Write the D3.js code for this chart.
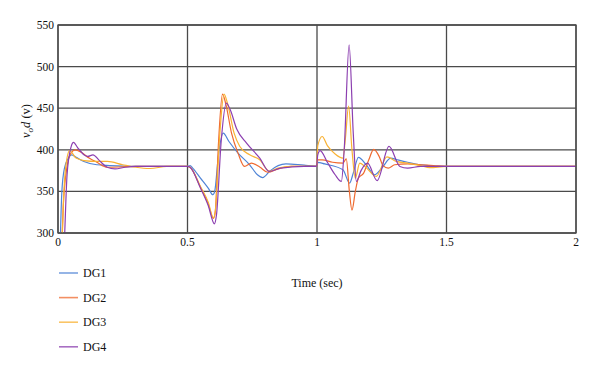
<!DOCTYPE html>
<html>
<head>
<meta charset="utf-8">
<script src="https://cdn.jsdelivr.net/npm/d3@7"></script>
<style>
body{margin:0;background:#fff;}
text{font-family:"Liberation Serif","DejaVu Serif",serif;fill:#111;}
</style>
</head>
<body>
<svg id="chart" width="600" height="371"></svg>
<script>
// time (sec) / voltage pairs
var dg1=[[0,150],[0.008,280],[0.015,350],[0.025,378],[0.04,390],[0.052,394],[0.07,391],[0.1,386],[0.15,382],[0.2,381],[0.3,380],[0.5,380],
    [0.51,381],[0.52,378],[0.55,366],[0.58,354],[0.598,346],[0.605,350],[0.62,395],[0.638,420],[0.66,410],[0.695,396],[0.74,382],[0.77,370],[0.79,366.5],[0.82,375],[0.85,381],[0.88,383],[0.95,381.5],[0.998,380.5],
    [1.003,385],[1.03,383],[1.1,376],[1.126,360],[1.14,372],[1.16,391],[1.19,382],[1.222,370],[1.25,378],[1.285,390],[1.31,388],[1.35,385],[1.4,382],[1.5,380],[2,380]];
var dg2=[[0,150],[0.012,260],[0.02,330],[0.035,380],[0.05,396],[0.066,400],[0.09,397],[0.12,390],[0.15,385],[0.19,379],[0.25,379.5],[0.3,380],[0.5,380],
    [0.51,379],[0.55,355],[0.58,335],[0.6,317.6],[0.607,325],[0.62,410],[0.635,467],[0.648,455],[0.67,420],[0.695,396],[0.72,380],[0.747,384],[0.78,379],[0.81,373],[0.85,377],[0.9,380],[0.998,380],
    [1.003,388],[1.02,388],[1.06,385],[1.1,384],[1.113,389],[1.125,350],[1.135,327.5],[1.148,350],[1.16,366],[1.18,372],[1.2,388],[1.219,400.5],[1.24,392],[1.255,381],[1.275,378],[1.3,382],[1.35,383],[1.4,382],[1.45,381],[1.5,380],[2,380]];
var dg3=[[0,150],[0.012,250],[0.02,330],[0.03,380],[0.045,399],[0.055,396],[0.07,390],[0.1,387],[0.15,386],[0.19,386],[0.25,382],[0.3,379],[0.355,377.5],[0.42,380],[0.5,380],
    [0.51,379],[0.55,356],[0.58,337],[0.6,318],[0.608,328],[0.625,420],[0.641,467],[0.655,455],[0.68,420],[0.702,404],[0.74,394],[0.779,388],[0.815,374.5],[0.85,378],[0.9,380],[0.998,380],
    [1.003,405],[1.02,416],[1.04,405],[1.07,395],[1.1,390],[1.11,415],[1.122,452.6],[1.135,400],[1.148,366],[1.165,384],[1.185,380],[1.229,368],[1.27,391.5],[1.306,386],[1.35,384],[1.4,381],[1.435,378.5],[1.5,380],[2,380]];
var dg4=[[0,150],[0.015,200],[0.026,300],[0.035,370],[0.05,403],[0.06,409],[0.075,403],[0.1,394],[0.115,392],[0.135,394],[0.16,387],[0.19,379],[0.22,377],[0.26,379],[0.3,380],[0.5,380],
    [0.51,379],[0.55,354],[0.58,333],[0.604,311],[0.612,322],[0.63,410],[0.65,456],[0.665,448],[0.69,425],[0.728,408],[0.779,390],[0.815,374],[0.86,378],[0.95,380],[0.998,380],
    [1.003,394],[1.012,399],[1.04,385],[1.07,370],[1.094,362],[1.105,400],[1.124,526],[1.14,420],[1.152,362],[1.17,375],[1.195,384],[1.232,363],[1.278,404],[1.32,380],[1.35,378],[1.4,380],[2,380]];

var names=["DG1","DG2","DG3","DG4"];
var colors=["#4f84d6","#ef6a30","#f9b234","#8c3fb0"];
var xTicks=[0,0.5,1,1.5,2];
var yTicks=[300,350,400,450,500,550];

var svg=d3.select("#chart");
var m={left:58,right:24,top:25,bottom:138};
var w=600-m.left-m.right, h=371-m.top-m.bottom;

var x=d3.scaleLinear().domain([0,2]).range([m.left,m.left+w]);
var y=d3.scaleLinear().domain([300,550]).range([m.top+h,m.top]);

svg.append("defs").append("clipPath").attr("id","plotclip")
    .append("rect").attr("x",m.left).attr("y",m.top).attr("width",w).attr("height",h);

// grid
svg.append("g").selectAll("line").data(yTicks).enter().append("line")
    .attr("x1",m.left).attr("x2",m.left+w)
    .attr("y1",function(d){return y(d);}).attr("y2",function(d){return y(d);})
    .attr("style","stroke:#4a4a4a;stroke-width:1.3");
svg.append("g").selectAll("line").data(xTicks).enter().append("line")
    .attr("x1",function(d){return x(d);}).attr("x2",function(d){return x(d);})
    .attr("y1",m.top).attr("y2",m.top+h)
    .attr("style","stroke:#4a4a4a;stroke-width:1.3");

// series
var line=d3.line().x(function(d){return x(d[0]);}).y(function(d){return y(d[1]);}).curve(d3.curveMonotoneX);
var series=[dg1,dg2,dg3,dg4];
svg.append("g").attr("clip-path","url(#plotclip)").selectAll("path").data(series).enter().append("path")
    .attr("d",line)
    .attr("fill","none")
    .attr("stroke",function(d,i){return colors[i];})
    .attr("stroke-width",1.2);

// frame
svg.append("rect").attr("x",m.left).attr("y",m.top).attr("width",w).attr("height",h)
    .attr("fill","none").attr("style","stroke:#4a4a4a;stroke-width:1.3");

// tick labels
svg.append("g").selectAll("text").data(yTicks).enter().append("text")
    .text(function(d){return d;})
    .attr("x",m.left-4).attr("y",function(d){return y(d)+4;})
    .attr("text-anchor","end").attr("font-size","11.5px");
svg.append("g").selectAll("text").data(xTicks).enter().append("text")
    .text(function(d){return d;})
    .attr("x",function(d){return x(d);}).attr("y",m.top+h+13)
    .attr("text-anchor","middle").attr("font-size","11.5px");

// axis titles
svg.append("text").attr("x",m.left+w/2).attr("y",287).attr("text-anchor","middle")
    .attr("font-size","12px").text("Time (sec)");
var yl=svg.append("text").attr("transform","translate(30,121) rotate(-90)")
    .attr("text-anchor","middle").attr("font-size","12.5px");
yl.append("tspan").attr("font-style","italic").text("v");
yl.append("tspan").attr("font-style","italic").attr("font-size","9px").attr("dy",3).text("o");
yl.append("tspan").attr("font-style","italic").attr("dy",-3).text("d");
yl.append("tspan").text(" (v)");

// legend
var lg=svg.append("g").selectAll("g").data(names).enter().append("g")
    .attr("transform",function(d,i){return "translate(59,"+(273+i*24.6)+")";});
lg.append("line").attr("x1",0).attr("x2",19).attr("y1",0).attr("y2",0)
    .attr("style",function(d,i){return "stroke:"+colors[i]+";stroke-width:1.6;opacity:0.75";});
lg.append("text").attr("x",24).attr("y",4).attr("font-size","12px").text(function(d){return d;});
</script>
</body>
</html>
